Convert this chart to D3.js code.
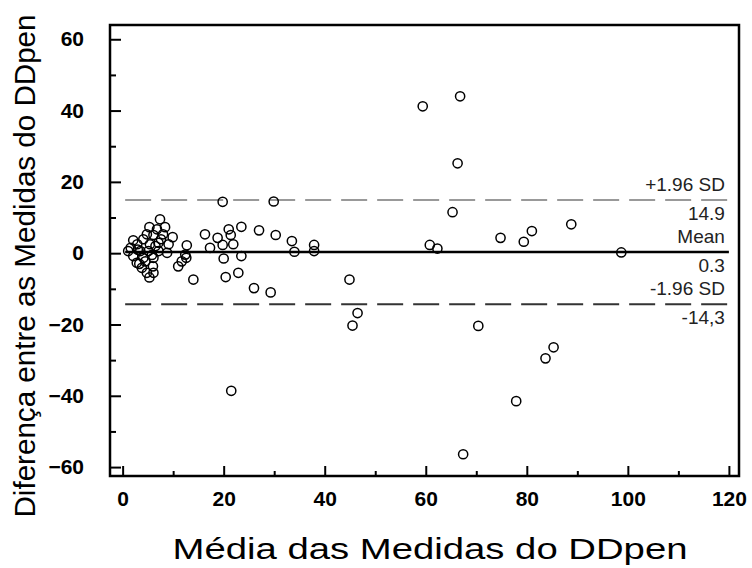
<!DOCTYPE html>
<html>
<head>
<meta charset="utf-8">
<script src="https://cdn.jsdelivr.net/npm/d3@7"></script>
<style>
  body { margin: 0; background: #fff; }
  svg text { font-family: "Liberation Sans", Arial, sans-serif; }
</style>
</head>
<body>
<div id="chart"></div>
<script>
// Bland-Altman data: mean of the two measures (x) and their difference (y)
var meanVals = [
  1.1, 1.6, 2.1, 2.9, 3.5, 4.1, 2.1, 2.8, 3.8, 4.1, 4.5, 4.8, 4.8, 5.1, 5.3, 5.3, 5.4,
  6.0, 6.1, 6.1, 6.1, 6.8, 7.1, 7.1, 7.4, 8.0, 8.4, 8.8, 9.1, 9.9, 11.0, 11.7, 12.4,
  12.7, 12.6, 14.0, 16.3, 17.3, 18.8, 19.8, 19.8, 20.0, 20.4, 21.0, 21.4, 21.5, 21.9,
  22.9, 23.5, 23.5, 26.0, 27.0, 29.3, 29.9, 30.3, 33.5, 34.0, 37.9, 37.9, 44.9, 45.5,
  46.5, 59.4, 60.8, 62.3, 65.3, 66.3, 66.8, 67.4, 70.4, 74.8, 77.9, 79.4, 81.0, 83.7,
  85.3, 88.8, 98.7, 3.0, 6.5, 7.6, 3.3, 5.8
];
var diffVals = [
  0.6, 1.5, 3.6, 2.5, 0.6, 3.9, -0.8, -2.7, -4.1, -1.3, -2.3, 5.3, -5.5, 0.6, 7.3, -6.8, 2.5,
  -3.7, 5.1, -1.3, -5.5, 6.7, 2.9, 0.6, 9.5, 5.3, 7.3, 0.1, 2.5, 4.5, -3.7, -2.3, -0.4,
  2.2, -1.3, -7.4, 5.3, 1.5, 4.3, 14.4, 2.3, -1.5, -6.7, 6.7, 5.1, -38.6, 2.5,
  -5.5, 7.4, -0.8, -9.8, 6.4, -11.0, 14.5, 5.1, 3.4, 0.4, 2.3, 0.6, -7.4, -20.3,
  -16.8, 41.2, 2.3, 1.3, 11.5, 25.2, 44.0, -56.4, -20.4, 4.3, -41.5, 3.2, 6.2, -29.5,
  -26.4, 8.1, 0.2, 1.0, 2.0, 3.9, -3.0, -0.5
];

// limits of agreement
var limitVals = [14.9, 0.3, -14.3];
var limitNames = ["+1.96 SD", "Mean", "-1.96 SD"];
var limitTexts = ["14.9", "0.3", "-14,3"];
var lineFrom = 0.5, lineTo = 120;

var xTicks = [0, 20, 40, 60, 80, 100, 120];
var xMinor = [10, 30, 50, 70, 90, 110];
var yTicks = [-60, -40, -20, 0, 20, 40, 60];
var yMinor = [-50, -30, -10, 10, 30, 50];

var W = 752, H = 568;
var m = {left: 110, right: 13, top: 25, bottom: 92};
var w = W - m.left - m.right;
var h = H - m.top - m.bottom;

var svg = d3.select("#chart")
  .append("svg")
  .attr("width", W)
  .attr("height", H);

var g = svg.append("g")
  .attr("transform", "translate(" + m.left + "," + m.top + ")");

var x = d3.scaleLinear().domain([-2.5, 122]).range([0, w]);
var y = d3.scaleLinear().domain([-62.5, 64]).range([h, 0]);

// frame
g.append("rect")
  .attr("width", w).attr("height", h)
  .attr("fill", "none").attr("stroke", "#000").attr("stroke-width", 2.5);

// bottom axis, ticks inward
var xAxis = g.append("g")
  .attr("transform", "translate(0," + h + ")")
  .call(d3.axisBottom(x).tickValues(xTicks).tickSize(-10).tickPadding(24));
g.append("g")
  .attr("transform", "translate(0," + h + ")")
  .call(d3.axisBottom(x).tickValues(xMinor).tickSize(-5).tickFormat(""));

var yAxis = g.append("g")
  .call(d3.axisLeft(y).tickValues(yTicks).tickSize(-11).tickPadding(26));
g.append("g")
  .call(d3.axisLeft(y).tickValues(yMinor).tickSize(-6).tickFormat(""));

g.selectAll(".domain").remove();
g.selectAll(".tick line").attr("stroke", "#000").attr("stroke-width", 2);
g.selectAll(".tick text")
  .attr("fill", "#000")
  .style("font-size", "21px")
  .style("font-weight", "bold");
xAxis.selectAll(".tick text").attr("dy", "0.3em");

// mean and limit lines
g.selectAll(".limit")
  .data(limitVals)
  .enter()
  .append("line")
  .attr("class", "limit")
  .attr("x1", x(lineFrom)).attr("x2", x(lineTo))
  .attr("y1", function(d) { return y(d) })
  .attr("y2", function(d) { return y(d) })
  .attr("stroke", function(d, i) { return i == 0 ? "#999" : i == 1 ? "#000" : "#333" })
  .attr("stroke-width", function(d, i) { return i == 1 ? 2.5 : 2 })
  .attr("stroke-dasharray", function(d, i) { return i == 1 ? null : "26,10" });

// points
g.selectAll(".pt")
  .data(meanVals)
  .enter()
  .append("circle")
  .attr("class", "pt")
  .attr("cx", function(d) { return x(d) })
  .attr("cy", function(d, i) { return y(diffVals[i]) })
  .attr("r", 4.6)
  .attr("fill", "none")
  .attr("stroke", "#000")
  .attr("stroke-width", 1.5);

// labels on the right of each line, packed tight as in the source
g.selectAll(".lname")
  .data(limitVals)
  .enter()
  .append("text")
  .attr("class", "lname")
  .attr("x", x(lineTo) - 4)
  .attr("y", function(d) { return y(d) - 9 })
  .attr("text-anchor", "end")
  .attr("fill", "#222")
  .style("font-size", "19px")
  .text(function(d, i) { return limitNames[i] });

g.selectAll(".lval")
  .data(limitVals)
  .enter()
  .append("text")
  .attr("class", "lval")
  .attr("x", x(lineTo) - 4)
  .attr("y", function(d) { return y(d) + 20 })
  .attr("text-anchor", "end")
  .attr("fill", "#222")
  .style("font-size", "19px")
  .text(function(d, i) { return limitTexts[i] });

// axis titles
svg.append("text")
  .attr("x", 430)
  .attr("y", 559)
  .attr("text-anchor", "middle")
  .attr("textLength", 515)
  .attr("lengthAdjust", "spacingAndGlyphs")
  .style("font-size", "29px")
  .text("Média das Medidas do DDpen");

svg.append("text")
  .attr("transform", "translate(35,266) rotate(-90)")
  .attr("text-anchor", "middle")
  .attr("textLength", 503)
  .attr("lengthAdjust", "spacingAndGlyphs")
  .style("font-size", "29px")
  .text("Diferença entre as Medidas do DDpen");
</script>
</body>
</html>
